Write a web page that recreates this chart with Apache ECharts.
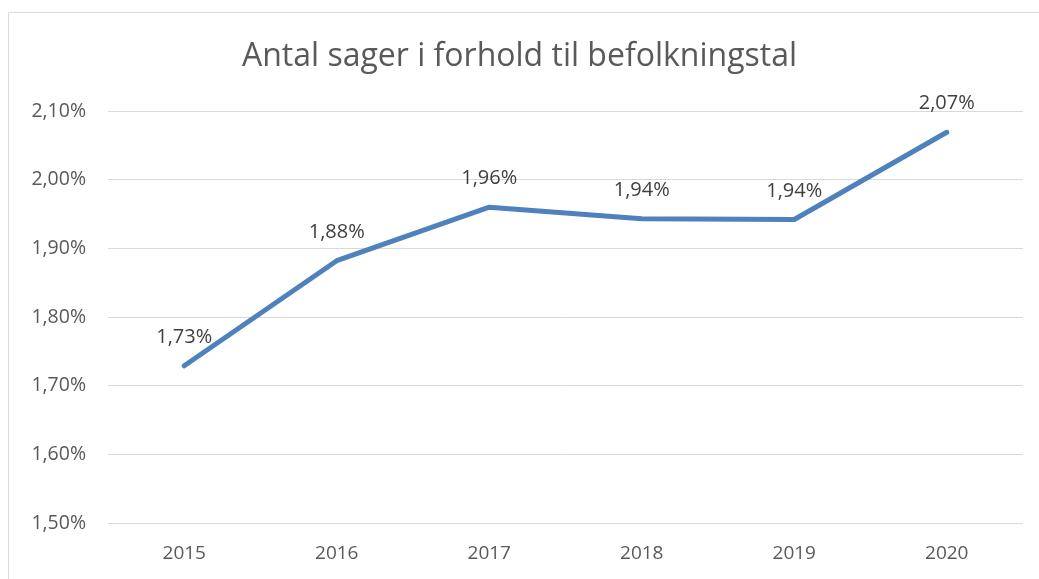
<!DOCTYPE html>
<html>
<head>
<meta charset="utf-8">
<script src="https://cdn.jsdelivr.net/npm/echarts@6/dist/echarts.min.js"></script>
<style>
  html, body { margin: 0; padding: 0; background: #fff; }
  #chart { width: 1039px; height: 579px; }
</style>
</head>
<body>
<div id="chart"></div>
<script>
var years = ['2015', '2016', '2017', '2018', '2019', '2020'];
var shares = [1.729, 1.882, 1.960, 1.943, 1.942, 2.069];
var yTicks = { min: 1.5, max: 2.1, step: 0.1 };
var titleText = 'Antal sager i forhold til befolkningstal';

(function () {
    var font = 'Open Sans, Liberation Sans, sans-serif';
    function pct(v) {
        return v.toFixed(2).replace('.', ',') + '%';
    }

    var chart = echarts.init(document.getElementById('chart'));
    chart.setOption({
        animation: false,
        title: {
            text: titleText,
            left: 'center',
            top: 36,
            textStyle: { fontFamily: font, fontSize: 32, fontWeight: 'normal', color: '#595959' }
        },
        graphic: [{
            type: 'rect',
            shape: { x: 8.5, y: 12.5, width: 1200, height: 700 },
            style: { fill: 'none', stroke: '#d9d9d9', lineWidth: 1 },
            silent: true
        }],
        grid: { left: 108, right: 16, top: 111, bottom: 56 },
        xAxis: {
            type: 'category',
            data: years,
            boundaryGap: true,
            axisLine: { show: false },
            axisTick: { show: false },
            axisLabel: { fontFamily: font, fontSize: 19, color: '#595959', margin: 21 }
        },
        yAxis: {
            type: 'value',
            min: yTicks.min,
            max: yTicks.max,
            interval: yTicks.step,
            axisLine: { show: false },
            axisTick: { show: false },
            splitLine: { lineStyle: { color: '#d9d9d9', width: 1 } },
            axisLabel: {
                fontFamily: font, fontSize: 19.5, color: '#595959', margin: 22,
                formatter: function (v) { return pct(v); }
            }
        },
        series: [{
            type: 'line',
            data: shares,
            symbol: 'circle',
            symbolSize: 1,
            itemStyle: { color: 'rgba(0,0,0,0)' },
            lineStyle: { color: '#4f81bd', width: 5, cap: 'round', join: 'round' },
            label: {
                show: true,
                position: 'top',
                distance: 18,
                fontFamily: font,
                fontSize: 20,
                color: '#404040',
                formatter: function (p) { return pct(p.value); }
            }
        }]
    });
})();
</script>
</body>
</html>
